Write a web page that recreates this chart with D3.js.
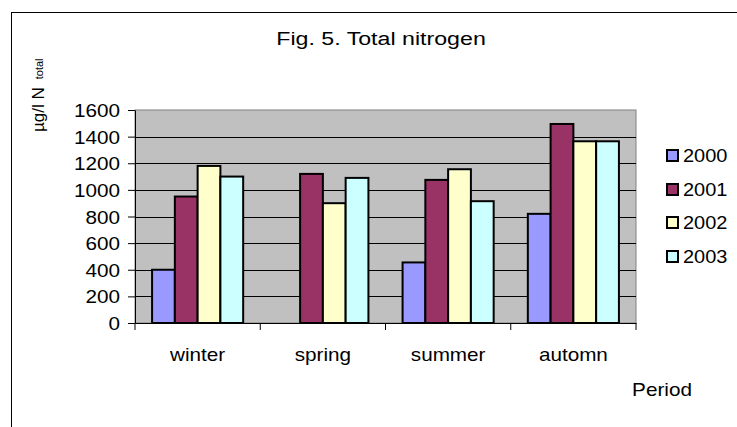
<!DOCTYPE html>
<html>
<head>
<meta charset="utf-8">
<script src="https://cdn.jsdelivr.net/npm/d3@7"></script>
<style>
  body { margin: 0; background: #fff; }
  text { font-family: "Liberation Sans", Arial, sans-serif; fill: #000; }
</style>
</head>
<body>
<div id="chart"></div>
<script>
// total nitrogen per season, grouped bars by year
const periods = ["winter", "spring", "summer", "automn"];
const years = ["2000", "2001", "2002", "2003"];
const v2000 = [400, null, 455, 820];
const v2001 = [950, 1120, 1075, 1495];
const v2002 = [1180, 900, 1155, 1365];
const v2003 = [1100, 1090, 915, 1365];
const yTicks = [0, 200, 400, 600, 800, 1000, 1200, 1400, 1600];
const colors = ["#9999FF", "#993366", "#FFFFCC", "#CCFFFF"];

const series = [v2000, v2001, v2002, v2003];

const W = 737, H = 427;
const plot = { left: 135, right: 636, top: 110, bottom: 323 };
const sx = 1.15; // text in the original is a bit wide

const svg = d3.select("#chart").append("svg")
  .attr("width", W).attr("height", H);

// outer frame
svg.append("rect")
  .attr("x", 11.5).attr("y", 12.5)
  .attr("width", W).attr("height", H)
  .attr("fill", "none").attr("stroke", "#000").attr("stroke-width", 1);

const x = d3.scaleBand().domain(periods).range([plot.left, plot.right]);
const x1 = d3.scaleBand().domain(years).range([0, x.bandwidth()])
  .paddingInner(0).paddingOuter(0.75);
const y = d3.scaleLinear().domain([0, 1600]).range([plot.bottom, plot.top]);

// plot background
svg.append("rect")
  .attr("x", plot.left).attr("y", plot.top)
  .attr("width", plot.right - plot.left).attr("height", plot.bottom - plot.top)
  .attr("fill", "#C0C0C0").attr("stroke", "#808080").attr("stroke-width", 1);

// gridlines
svg.append("g").selectAll("line")
  .data(yTicks.filter(d => d > 0 && d < 1600))
  .join("line")
  .attr("x1", plot.left).attr("x2", plot.right)
  .attr("y1", d => Math.round(y(d)) + 0.5).attr("y2", d => Math.round(y(d)) + 0.5)
  .attr("stroke", "#000").attr("stroke-width", 1);

// bars
const groups = svg.append("g").selectAll("g")
  .data(periods)
  .join("g")
  .attr("transform", d => `translate(${x(d)},0)`);

groups.selectAll("rect")
  .data((p, i) => years.map((yr, k) => ({ yr, k, v: series[k][i] })).filter(d => d.v != null))
  .join("rect")
  .attr("x", d => x1(d.yr))
  .attr("y", d => y(d.v))
  .attr("width", x1.bandwidth())
  .attr("height", d => y(0) - y(d.v))
  .attr("fill", d => colors[d.k])
  .attr("stroke", "#000")
  .attr("stroke-width", 2);

// y axis
const yAxis = svg.append("g")
  .attr("transform", `translate(${plot.left},0)`)
  .call(d3.axisLeft(y).tickValues(yTicks).tickFormat(d3.format("d"))
    .tickSize(7).tickPadding(0).tickSizeOuter(0));
yAxis.select(".domain").attr("stroke", "#000");
yAxis.selectAll(".tick text")
  .attr("x", null).attr("dy", null)
  .attr("font-size", 18)
  .attr("text-anchor", "end")
  .attr("transform", `translate(-15,6.5) scale(${sx},1)`);

// x axis
const xAxis = svg.append("g")
  .attr("transform", `translate(0,${plot.bottom})`)
  .call(d3.axisBottom(x).tickSize(0).tickSizeOuter(0).tickPadding(0));
xAxis.select(".domain").attr("stroke", "#000");
xAxis.selectAll(".tick text")
  .attr("y", null).attr("dy", null)
  .attr("font-size", 18)
  .attr("text-anchor", "middle")
  .attr("transform", `translate(0,38) scale(${sx},1)`);
// category separators
svg.append("g").selectAll("line")
  .data(periods.concat(["end"]))
  .join("line")
  .attr("x1", (d, i) => i < periods.length ? x(d) : plot.right)
  .attr("x2", (d, i) => i < periods.length ? x(d) : plot.right)
  .attr("y1", plot.bottom).attr("y2", plot.bottom + 7)
  .attr("stroke", "#000");

// title
svg.append("text")
  .attr("transform", `translate(381,45) scale(1.22,1)`)
  .attr("text-anchor", "middle")
  .attr("font-size", 19)
  .text("Fig. 5. Total nitrogen");

// y title
const yt = svg.append("text")
  .attr("transform", "translate(44,132) rotate(-90)")
  .attr("font-size", 17);
yt.append("tspan").text("µg/l N");
yt.append("tspan").attr("font-size", 11).attr("dx", 8).attr("dy", -1).text("total");

// x title
svg.append("text")
  .attr("transform", `translate(662,396) scale(${sx},1)`)
  .attr("text-anchor", "middle")
  .attr("font-size", 18)
  .text("Period");

// legend
const legendY = [155, 189, 222, 256];
const leg = svg.append("g").selectAll("g")
  .data(years)
  .join("g")
  .attr("transform", (d, i) => `translate(666,${legendY[i]})`);
leg.append("rect")
  .attr("x", 1).attr("y", -5)
  .attr("width", 11).attr("height", 11)
  .attr("fill", (d, i) => colors[i])
  .attr("stroke", "#000").attr("stroke-width", 2);
leg.append("text")
  .attr("transform", `translate(17,6.5) scale(1.11,1)`)
  .attr("font-size", 18)
  .text(d => d);
</script>
</body>
</html>
